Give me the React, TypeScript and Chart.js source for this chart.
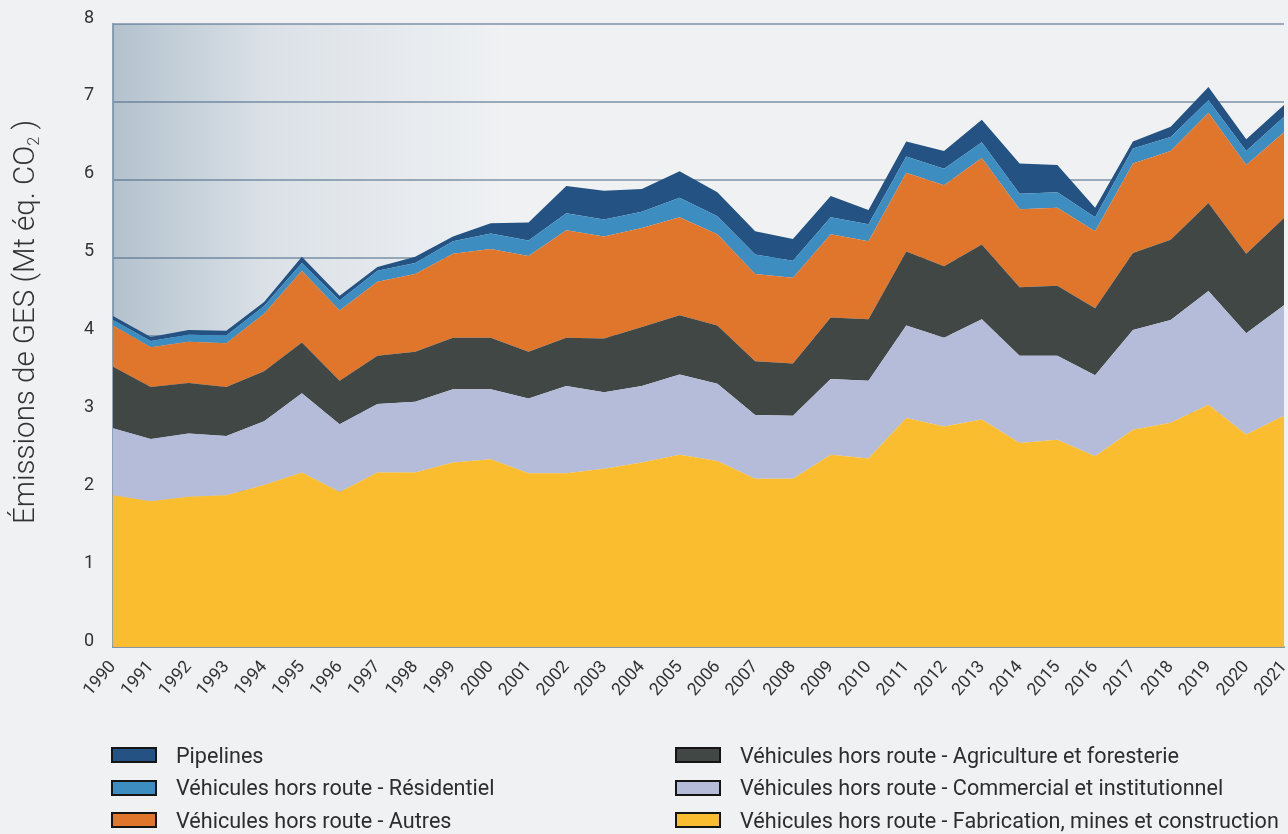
import React, { useEffect, useRef } from "react";
import { Chart, registerables } from "chart.js";

Chart.register(...registerables);

const years = ["1990","1991","1992","1993","1994","1995","1996","1997","1998","1999","2000","2001","2002","2003","2004","2005","2006","2007","2008","2009","2010","2011","2012","2013","2014","2015","2016","2017","2018","2019","2020","2021"];

const fabrication = [1.95,1.87,1.93,1.95,2.08,2.24,1.99,2.24,2.24,2.37,2.41,2.23,2.23,2.29,2.37,2.47,2.39,2.16,2.16,2.47,2.42,2.94,2.83,2.92,2.62,2.66,2.45,2.79,2.88,3.11,2.73,2.97];
const commercial = [0.86,0.80,0.81,0.76,0.82,1.02,0.87,0.88,0.91,0.94,0.90,0.96,1.12,0.98,0.98,1.03,0.99,0.82,0.81,0.97,1.00,1.19,1.14,1.29,1.12,1.08,1.04,1.28,1.32,1.46,1.30,1.42];
const agriculture = [0.79,0.67,0.65,0.63,0.64,0.65,0.56,0.62,0.64,0.66,0.66,0.60,0.62,0.69,0.76,0.76,0.75,0.69,0.67,0.79,0.79,0.95,0.92,0.96,0.88,0.90,0.86,0.99,1.03,1.13,1.02,1.12];
const autres = [0.53,0.51,0.53,0.56,0.74,0.92,0.90,0.95,1.00,1.08,1.14,1.23,1.38,1.31,1.27,1.26,1.17,1.12,1.10,1.07,1.00,1.01,1.04,1.11,1.00,1.00,0.99,1.15,1.14,1.16,1.14,1.10];
const residentiel = [0.07,0.08,0.09,0.10,0.10,0.10,0.13,0.14,0.14,0.16,0.20,0.20,0.22,0.22,0.21,0.25,0.23,0.25,0.22,0.22,0.22,0.21,0.21,0.20,0.20,0.20,0.18,0.19,0.18,0.16,0.18,0.20];
const pipelines = [0.05,0.05,0.06,0.06,0.05,0.08,0.06,0.05,0.08,0.06,0.13,0.23,0.35,0.37,0.29,0.34,0.31,0.30,0.28,0.27,0.18,0.19,0.23,0.29,0.39,0.35,0.12,0.09,0.13,0.17,0.15,0.15];

const yTicks = [0, 1, 2, 3, 4, 5, 6, 7, 8];

// bottom-to-top stacking order
const series = [
  { label: "Véhicules hors route - Fabrication, mines et construction", data: fabrication, color: "#fbbd30" },
  { label: "Véhicules hors route - Commercial et institutionnel", data: commercial, color: "#b5bcd9" },
  { label: "Véhicules hors route - Agriculture et foresterie", data: agriculture, color: "#414745" },
  { label: "Véhicules hors route - Autres", data: autres, color: "#e0762b" },
  { label: "Véhicules hors route - Résidentiel", data: residentiel, color: "#3d8dc1" },
  { label: "Pipelines", data: pipelines, color: "#235283" },
];

const legendLeft = [5, 4, 3];
const legendRight = [2, 1, 0];

const FONT = "Roboto, 'Noto Sans', sans-serif";

export default function App() {
  const ref = useRef<HTMLCanvasElement>(null);

  useEffect(() => {
    document.body.style.margin = "0";
    document.body.style.background = "#eff1f3";
    const bgPlugin = {
      id: "plotBg",
      beforeDraw(chart: any) {
        const { ctx, chartArea: a } = chart;
        ctx.save();
        ctx.fillStyle = "#eff1f3";
        ctx.fillRect(0, 0, chart.width, chart.height);
        const g = ctx.createLinearGradient(a.left, 0, a.left + 390, 0);
        g.addColorStop(0, "#b3c2ce");
        g.addColorStop(0.4, "#dbe1e7");
        g.addColorStop(1, "#eff1f3");
        ctx.fillStyle = g;
        ctx.fillRect(a.left, a.top, a.right - a.left, a.bottom - a.top);
        ctx.restore();
      },
    };
    const chart = new Chart(ref.current as HTMLCanvasElement, {
      type: "line",
      data: {
        labels: years,
        datasets: series.map((s, i) => ({
          label: s.label,
          data: s.data,
          backgroundColor: s.color,
          borderColor: s.color,
          borderWidth: 0,
          pointRadius: 0,
          pointHoverRadius: 0,
          tension: 0,
          fill: i === 0 ? "origin" : "-1",
        })),
      },
      options: {
        animation: false,
        responsive: false,
        events: [],
        layout: { padding: { top: 24, right: 4, left: 0, bottom: 0 } },
        plugins: {
          legend: { display: false },
          tooltip: { enabled: false },
        },
        scales: {
          x: {
            type: "category",
            offset: false,
            grid: { display: false, drawTicks: false },
            border: { display: true, color: "rgba(120,140,160,0.7)", width: 2 },
            ticks: {
              autoSkip: false,
              minRotation: 49,
              maxRotation: 49,
              padding: 10,
              color: "#333333",
              font: { family: FONT, size: 17.5 },
            },
            afterFit: (scale: any) => {
              scale.height = 187;
              scale.paddingLeft = 0;
              scale.paddingRight = 0;
            },
          },
          y: {
            stacked: true,
            min: 0,
            max: 8,
            z: 1,
            afterBuildTicks: (scale: any) => {
              scale.ticks = yTicks.map((v) => ({ value: v }));
            },
            grid: { color: "rgba(70,100,130,0.5)", lineWidth: 2, drawTicks: false },
            border: { display: true, color: "rgba(110,135,160,0.75)", width: 2 },
            ticks: {
              padding: 19,
              labelOffset: -6,
              color: "#333333",
              font: { family: FONT, size: 18 },
            },
            afterFit: (scale: any) => {
              scale.width = 113;
              scale.paddingTop = 0;
              scale.paddingBottom = 0;
            },
          },
        },
      },
      plugins: [bgPlugin],
    });
    return () => chart.destroy();
  }, []);

  const legendItem = (idx: number, left: number, top: number) => {
    const s = series[idx];
    return (
      <div
        key={s.label}
        style={{
          position: "absolute",
          left,
          top,
          height: 32,
          display: "flex",
          alignItems: "center",
          whiteSpace: "nowrap",
        }}
      >
        <div
          style={{
            width: 42,
            height: 12,
            background: s.color,
            border: "2px solid #151515",
            marginRight: 19,
            flex: "none",
          }}
        />
        <span style={{ font: `21.6px ${FONT}`, color: "#2d2d2d" }}>{s.label}</span>
      </div>
    );
  };

  return (
    <div
      style={{
        position: "relative",
        width: 1288,
        height: 834,
        background: "#eff1f3",
        overflow: "hidden",
      }}
    >
      <canvas ref={ref} width={1288} height={834} style={{ display: "block", width: 1288, height: 834 }} />
      <div
        style={{
          position: "absolute",
          left: 24,
          top: 322,
          transform: "translate(-50%, -50%) rotate(-90deg)",
          whiteSpace: "nowrap",
          font: `300 29.5px ${FONT}`,
          lineHeight: "34px",
          color: "#333333",
        }}
      >
        Émissions de GES (Mt éq. CO
        <sub style={{ fontSize: "0.55em", verticalAlign: "-0.3em", lineHeight: 0 }}>2</sub>
        {" )"}
      </div>
      {legendLeft.map((idx, r) => legendItem(idx, 111, 739 + r * 32.5))}
      {legendRight.map((idx, r) => legendItem(idx, 675, 739 + r * 32.5))}
    </div>
  );
}
